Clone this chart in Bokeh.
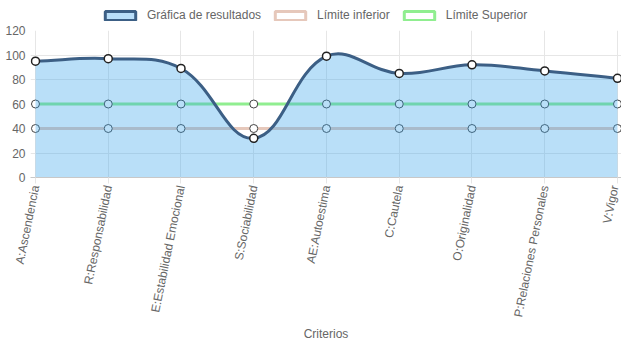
import numpy as np
from bokeh.plotting import figure
from bokeh.layouts import column
from bokeh.models import Range1d, FixedTicker, Legend, LegendItem, ColumnDataSource
from bokeh.embed import file_html
from bokeh.resources import INLINE

# ---------------- data ----------------
categories = ["A:Ascendencia", "R:Responsabilidad", "E:Estabilidad Emocional",
              "S:Sociabilidad", "AE:Autoestima", "C:Cautela", "O:Originalidad",
              "P:Relaciones Personales", "V:Vigor"]
resultados = [95, 97, 89, 32, 99, 85, 92, 87, 81]
limite_inferior = [40, 40, 40, 40, 40, 40, 40, 40, 40]
limite_superior = [60, 60, 60, 60, 60, 60, 60, 60, 60]
y_ticks = [0, 20, 40, 60, 80, 100, 120]
series_names = ["Gráfica de resultados", "Límite inferior", "Límite Superior"]

# ---------------- styles ----------------
FONT = "Liberation Sans"
TXT = "#666666"
GRID = "#e6e6e6"
BLUE_FILL = "#36a2eb"
BLUE_SWATCH = "#b9def9"
BLUE_LINE = "#3c5f85"
PINK = "#e6c8bb"
GREEN = "#90ee90"

W = 621
LEG_H = 22
H = 343 - LEG_H
BORDER_L, BORDER_R, BORDER_T, BORDER_B = 30, 0, 8, 165
X_START, X_END = -0.0687, 8.055
frame_w = W - BORDER_L - BORDER_R
frame_h = H - BORDER_T - BORDER_B
px_per_x = frame_w / (X_END - X_START)
px_per_y = frame_h / 120.0
TENSION = 0.4

p = figure(width=W, height=H, x_range=Range1d(X_START, X_END), y_range=Range1d(0, 120),
           output_backend="svg", toolbar_location=None,
           min_border_left=BORDER_L, min_border_right=BORDER_R,
           min_border_top=BORDER_T, min_border_bottom=BORDER_B)
p.outline_line_color = None
p.background_fill_color = "white"
p.border_fill_color = "white"

x = np.arange(len(categories), dtype=float)
yr = np.array(resultados, dtype=float)

# Chart.js-like cardinal spline control points (computed in pixel space)
n = len(x)
cpp, cpn = [], []
for i in range(n):
    a, b = max(i - 1, 0), min(i + 1, n - 1)
    d01 = np.hypot((x[i] - x[a]) * px_per_x, (yr[i] - yr[a]) * px_per_y)
    d12 = np.hypot((x[b] - x[i]) * px_per_x, (yr[b] - yr[i]) * px_per_y)
    tot = d01 + d12
    s01 = d01 / tot if tot else 0.0
    s12 = d12 / tot if tot else 0.0
    fa, fb = TENSION * s01, TENSION * s12
    dx, dy = x[b] - x[a], yr[b] - yr[a]
    cpp.append((x[i] - fa * dx, min(max(yr[i] - fa * dy, 0), 120)))
    cpn.append((x[i] + fb * dx, min(max(yr[i] + fb * dy, 0), 120)))

seg = dict(x0=x[:-1], y0=yr[:-1], x1=x[1:], y1=yr[1:],
           cx0=[cpn[i][0] for i in range(n - 1)], cy0=[cpn[i][1] for i in range(n - 1)],
           cx1=[cpp[i + 1][0] for i in range(n - 1)], cy1=[cpp[i + 1][1] for i in range(n - 1)])

tt = np.linspace(0, 1, 30)
fx, fy = [], []
for i in range(n - 1):
    P0 = np.array([seg["x0"][i], seg["y0"][i]])
    C0 = np.array([seg["cx0"][i], seg["cy0"][i]])
    C1 = np.array([seg["cx1"][i], seg["cy1"][i]])
    P1 = np.array([seg["x1"][i], seg["y1"][i]])
    for t in (tt if i == 0 else tt[1:]):
        pt = (1 - t) ** 3 * P0 + 3 * (1 - t) ** 2 * t * C0 + 3 * (1 - t) * t ** 2 * C1 + t ** 3 * P1
        fx.append(pt[0]); fy.append(pt[1])

# ---- Limits (drawn first, beneath the blue fill) ----
p.line(x, limite_superior, line_color=GREEN, line_width=3)
p.scatter(x, limite_superior, size=8, fill_color="white", line_color="#444444", line_width=1)
p.line(x, limite_inferior, line_color=PINK, line_width=3)
p.scatter(x, limite_inferior, size=8, fill_color="white", line_color="#444444", line_width=1)

# ---- Results ----
p.varea(x=fx, y1=0, y2=fy, fill_color=BLUE_FILL, fill_alpha=0.35)
p.bezier(source=ColumnDataSource(seg), x0="x0", y0="y0", x1="x1", y1="y1",
         cx0="cx0", cy0="cy0", cx1="cx1", cy1="cy1", line_color=BLUE_LINE, line_width=3)
p.scatter(x, yr, size=8, fill_color="white", line_color="#222222", line_width=1.5)

# ---- axes ----
p.xaxis.ticker = FixedTicker(ticks=list(range(len(categories))))
p.xaxis.major_label_overrides = {i: c for i, c in enumerate(categories)}
p.xaxis.major_label_orientation = 1.37
p.xaxis.major_label_text_font = FONT
p.xaxis.major_label_text_font_size = "12px"
p.xaxis.major_label_text_color = TXT
p.xaxis.major_tick_out = 6
p.xaxis.major_tick_in = 0
p.xaxis.major_tick_line_color = GRID
p.xaxis.minor_tick_line_color = None
p.xaxis.axis_line_color = "#c8c8c8"
p.xaxis.major_label_standoff = 2
p.xaxis.axis_label = "Criterios"
p.xaxis.axis_label_text_font = FONT
p.xaxis.axis_label_text_font_size = "12px"
p.xaxis.axis_label_text_font_style = "normal"
p.xaxis.axis_label_text_color = TXT
p.xaxis.axis_label_standoff = 4

p.yaxis.ticker = FixedTicker(ticks=y_ticks)
p.yaxis.major_label_text_font = FONT
p.yaxis.major_label_text_font_size = "12px"
p.yaxis.major_label_text_color = TXT
p.yaxis.major_tick_out = 0
p.yaxis.major_tick_in = 0
p.yaxis.minor_tick_line_color = None
p.yaxis.axis_line_color = None
p.yaxis.major_label_standoff = 5

p.xgrid.ticker = FixedTicker(ticks=list(range(len(categories))))
p.xgrid.grid_line_color = GRID
p.ygrid.grid_line_color = GRID

# ---- legend strip (separate figure above the chart) ----
lf = figure(width=W, height=LEG_H, x_range=Range1d(0, 1), y_range=Range1d(0, 1),
            output_backend="svg", toolbar_location=None, min_border=0)
lf.axis.visible = False
lf.grid.visible = False
lf.outline_line_color = None
lf.background_fill_color = "white"
lf.border_fill_color = "white"
# legend proxy glyphs: placed outside the visible range, used only for swatches
proxy = dict(left=[5], right=[6], top=[6], bottom=[5])
r1 = lf.quad(source=ColumnDataSource(proxy), left="left", right="right", top="top", bottom="bottom",
             fill_color=BLUE_SWATCH, line_color=BLUE_LINE, line_width=3)
r2 = lf.quad(source=ColumnDataSource(proxy), left="left", right="right", top="top", bottom="bottom",
             fill_color="white", line_color=PINK, line_width=3)
r3 = lf.quad(source=ColumnDataSource(proxy), left="left", right="right", top="top", bottom="bottom",
             fill_color="white", line_color=GREEN, line_width=3)
legend = Legend(items=[LegendItem(label=series_names[0], renderers=[r1]),
                       LegendItem(label=series_names[1], renderers=[r2]),
                       LegendItem(label=series_names[2], renderers=[r3])],
                orientation="horizontal", location=(71, 0),
                padding=0, margin=0, spacing=10, label_standoff=8,
                glyph_width=38, glyph_height=11, label_height=11,
                label_text_font=FONT, label_text_font_size="12px", label_text_color=TXT,
                border_line_color=None, background_fill_alpha=0)
lf.add_layout(legend)

layout = column(lf, p, spacing=0)
open("out.html", "w").write(file_html(layout, INLINE))
